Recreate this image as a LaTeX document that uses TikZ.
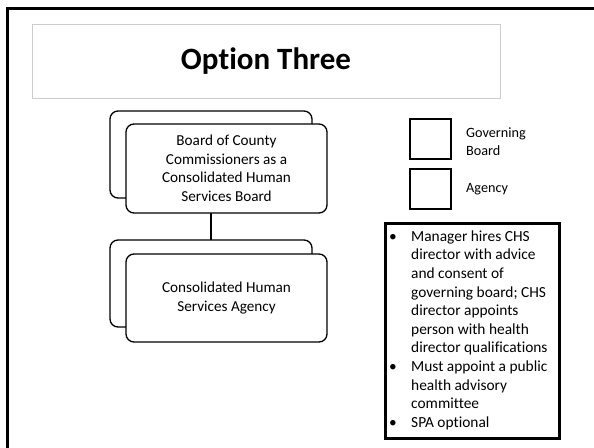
\documentclass[tikz,border=0pt]{standalone}
\usepackage{fontspec}
\setmainfont{Carlito}[Ligatures={NoCommon}]
\begin{document}
\begin{tikzpicture}[x=1pt,y=-1pt,
  backbox/.style={draw=black,line width=1.3pt,rounded corners=8pt,fill=white},
  frontbox/.style={draw=black,line width=1.3pt,rounded corners=8pt,fill=white,align=center,
    font=\fontsize{15.2}{18.5}\selectfont},
  legbox/.style={draw=black,line width=1.2pt,fill=white},
  legtext/.style={anchor=west,align=left,inner sep=0pt,font=\fontsize{14.2}{18}\selectfont},
  link/.style={draw=black,line width=1.3pt}]
\useasboundingbox (0,0) rectangle (594,447);
\fill[white] (0,0) rectangle (594,447);
% outer frame (left and top edges visible)
\draw[line width=3pt] (7.5,460) -- (7.5,8) -- (610,8);
% title
\node[draw=black!20,line width=0.8pt,minimum width=468pt,minimum height=74pt,inner sep=0pt,
  font=\fontsize{31}{34}\selectfont\bfseries] (title) at (266,61) {Option Three};
% back boxes
\path[backbox] (110,111) rectangle (312,198);
\coordinate (b1s) at (211,198);
\path[backbox] (110,240) rectangle (312,327);
\coordinate (b2n) at (211,240);
\draw[link] (b1s) -- (b2n);
% front boxes
\node[frontbox,minimum width=201pt,minimum height=89pt,inner sep=0pt] (board) at (226.5,168.5)
  {Board of County\\Commissioners as a\\Consolidated Human\\Services Board};
\node[frontbox,minimum width=201pt,minimum height=88pt,inner sep=0pt] (agency) at (226.5,298)
  {Consolidated Human\\Services Agency};
% legend
\node[legbox,minimum width=41pt,minimum height=40pt,inner sep=0pt] (lg1) at (430.5,139) {};
\node[legtext] (lt1) at (466,142) {Governing\\Board};
\node[legbox,minimum width=41pt,minimum height=40pt,inner sep=0pt] (lg2) at (430.5,189) {};
\node[legtext] (lt2) at (466,189) {Agency};
% notes box
\node[draw=black,line width=3pt,fill=white,minimum width=174pt,minimum height=215pt,inner sep=0pt] (notes) at (472,331) {};
\node[anchor=north west,inner sep=0pt,font=\fontsize{15.4}{18.6}\selectfont] (ntext) at (389,228)
{\begin{tabular}{@{}p{22pt}@{}l@{}}
\textbullet & Manager hires CHS\\
 & director with advice\\
 & and consent of\\
 & governing board; CHS\\
 & director appoints\\
 & person with health\\
 & director qualifications\\
\textbullet & Must appoint a public\\
 & health advisory\\
 & committee\\
\textbullet & SPA optional
\end{tabular}};
\end{tikzpicture}
\end{document}
